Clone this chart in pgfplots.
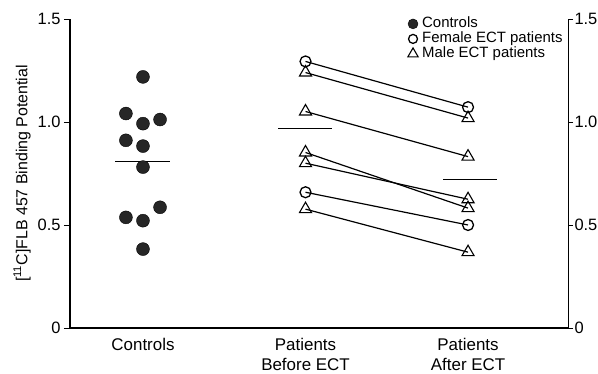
\documentclass[border=0pt]{standalone}
\usepackage{fontspec}
\setmainfont{Liberation Sans}
\usepackage{pgfplots}
\pgfplotsset{compat=1.18}
\begin{document}
\begin{tikzpicture}
\useasboundingbox (0,0) rectangle (598bp,374bp);
\begin{axis}[
  at={(70bp,46bp)}, anchor=south west,
  scale only axis, width=498bp, height=309bp,
  xmin=0.551, xmax=3.615, ymin=0, ymax=1.5,
  axis x line=bottom, axis y line=left,
  axis line style={-, line width=1.3pt},
  xtick={1,2,3},
  xticklabels={Controls,{Patients\\Before ECT},{Patients\\After ECT}},
  xticklabel style={align=center, font=\fontsize{17}{19.5}\selectfont, yshift=-1bp},
  xtick style={draw=none},
  ytick={0,0.5,1,1.5}, yticklabels={0,0.5,1.0,1.5},
  yticklabel style={font=\fontsize{16.5}{18}\selectfont},
  /pgf/number format/assume math mode=true,
  tick align=outside, major tick length=6bp,
  ytick style={black, line width=0.9pt},
  ylabel={[\textsuperscript{11}C]FLB 457 Binding Potential},
  ylabel style={font=\fontsize{16}{18}\selectfont},
  clip=false,
  legend style={draw=none, fill=none, at={(0.678,1.009)}, anchor=north west,
    inner sep=0pt, row sep=0pt, font=\fontsize{15}{16}\selectfont,
    nodes={inner ysep=1bp, inner xsep=4pt, text height=10.5bp, text depth=2.5bp}},
  legend cell align=left,
]
\addlegendimage{only marks, mark=*, mark size=5pt, mark options={fill=black!85, draw=black}}
\addlegendentry{Controls}
\addlegendimage{only marks, mark=o, mark size=4.5pt, mark options={line width=1.3pt, fill=white}}
\addlegendentry{Female ECT patients}
\addlegendimage{only marks, mark=triangle, mark size=6pt, mark options={line width=1.1pt, fill=white}}
\addlegendentry{Male ECT patients}

% Controls
\addplot[only marks, mark=*, mark size=6.5pt, mark options={fill=black!85, draw=black}, forget plot]
coordinates {
(1.0,1.219) (0.895,1.041) (1.0,0.992) (1.105,1.012) (0.895,0.911)
(1.0,0.883) (1.0,0.781) (1.105,0.586) (0.895,0.537) (1.0,0.521) (1.0,0.383)
};
% Means
\addplot[black, line width=1pt, forget plot] coordinates {(0.828,0.81) (1.166,0.81)};
\addplot[black, line width=1pt, forget plot] coordinates {(1.831,0.970) (2.163,0.970)};
\addplot[black, line width=1pt, forget plot] coordinates {(2.846,0.719) (3.179,0.719)};
% Female patients
\addplot[black, line width=1.2pt, mark=o, mark size=5.5pt, mark options={line width=1.3pt, fill=white}, forget plot]
coordinates {(2,1.294) (3,1.072)};
\addplot[black, line width=1.2pt, mark=o, mark size=5.5pt, mark options={line width=1.3pt, fill=white}, forget plot]
coordinates {(2,0.659) (3,0.500)};
% Male patients
\addplot[black, line width=1.2pt, mark=triangle, mark size=7pt, mark options={line width=1.1pt, fill=white}, forget plot]
coordinates {(2,1.240) (3,1.019)};
\addplot[black, line width=1.2pt, mark=triangle, mark size=7pt, mark options={line width=1.1pt, fill=white}, forget plot]
coordinates {(2,1.051) (3,0.832)};
\addplot[black, line width=1.2pt, mark=triangle, mark size=7pt, mark options={line width=1.1pt, fill=white}, forget plot]
coordinates {(2,0.852) (3,0.582)};
\addplot[black, line width=1.2pt, mark=triangle, mark size=7pt, mark options={line width=1.1pt, fill=white}, forget plot]
coordinates {(2,0.800) (3,0.625)};
\addplot[black, line width=1.2pt, mark=triangle, mark size=7pt, mark options={line width=1.1pt, fill=white}, forget plot]
coordinates {(2,0.577) (3,0.368)};
\end{axis}
\begin{axis}[
  at={(70bp,46bp)}, anchor=south west,
  scale only axis, width=498bp, height=309bp,
  xmin=0.551, xmax=3.615, ymin=0, ymax=1.5,
  axis x line=none, axis y line=right,
  axis line style={-, line width=1pt},
  ytick={0,0.5,1,1.5}, yticklabels={0,0.5,1.0,1.5},
  yticklabel style={font=\fontsize{16.5}{18}\selectfont, xshift=-2bp},
  /pgf/number format/assume math mode=true,
  tick align=outside, major tick length=5bp,
  ytick style={black, line width=0.9pt},
]
\addplot[draw=none] coordinates {(1,0)};
\end{axis}
\end{tikzpicture}
\end{document}
